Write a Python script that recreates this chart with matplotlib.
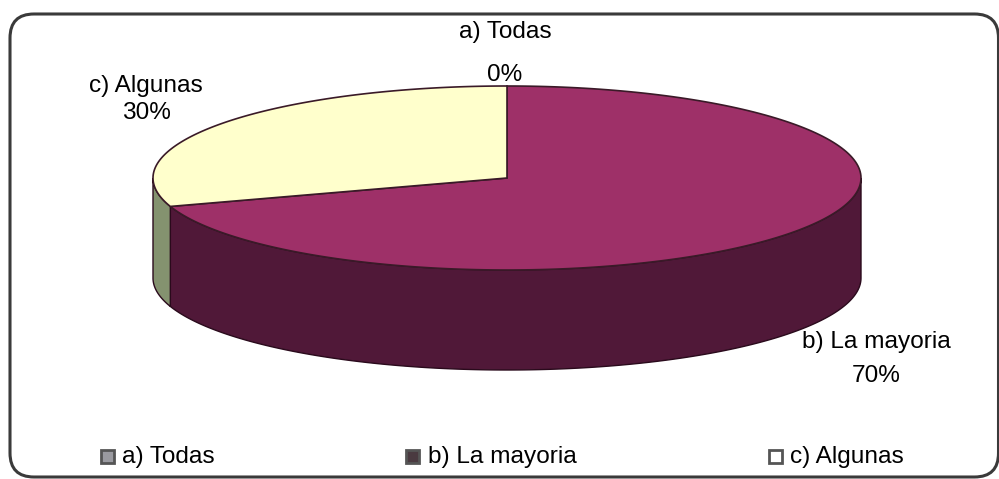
import numpy as np
import matplotlib
matplotlib.use('Agg')
import matplotlib.pyplot as plt
from matplotlib.patches import FancyBboxPatch, Polygon, Rectangle

plt.rcParams['font.family'] = ['Liberation Sans', 'DejaVu Sans']

labels = ['a) Todas', 'b) La mayoria', 'c) Algunas']
values = [0, 70, 30]
top_colors = ['#8a9a7a', '#9e3068', '#ffffcc']
side_colors = ['#7f8f6f', '#501838', '#84926f']
legend_colors = ['#9a9aa0', '#4a3a40', '#ffffff']

cx, cy, rx, ry, depth = 507, 178, 354, 92, 100
fs = 17.6


def ell(a):
    # a in degrees, clockwise from the top of the pie
    t = np.radians(a)
    return cx + rx * np.sin(t), cy - ry * np.cos(t)


fig = plt.figure(figsize=(9.99, 4.79), dpi=100)
ax = fig.add_axes([0, 0, 1, 1])
ax.set_xlim(0, 999)
ax.set_ylim(479, 0)
ax.axis('off')

ax.add_patch(FancyBboxPatch((10, 14), 988.5, 463, boxstyle='round,pad=0,rounding_size=24',
                            fc='white', ec='#3a3a3a', lw=2.2))

start = 0
for value, top, side in zip(values, top_colors, side_colors):
    end = start + value * 3.6
    if value > 0:
        a = np.linspace(start, end, 200)
        x, y = ell(a)
        # wall only where the rim faces the viewer (90..270 deg)
        lo, hi = max(start, 90), min(end, 270)
        if hi > lo:
            w = np.linspace(lo, hi, 200)
            wx, wy = ell(w)
            pts = np.r_[np.c_[wx, wy], np.c_[wx, wy + depth][::-1]]
            ax.add_patch(Polygon(pts, closed=True, fc=side, ec='#2a0a1c', lw=1.0, zorder=2))
        pts = np.r_[[[cx, cy]], np.c_[x, y]]
        ax.add_patch(Polygon(pts, closed=True, fc=top, ec='#3a1a28', lw=1.2, zorder=3))
    start = end

ax.text(505, 32, 'a) Todas', fontsize=fs, ha='center', va='center')
ax.text(505, 75, '0%', fontsize=fs, ha='center', va='center')
ax.text(146, 86, 'c) Algunas', fontsize=fs, ha='center', va='center')
ax.text(146, 113, '30%', fontsize=fs, ha='center', va='center')
ax.text(876, 342, 'b) La mayoria', fontsize=fs, ha='center', va='center')
ax.text(876, 376, '70%', fontsize=fs, ha='center', va='center')

legend_x = [107, 412.5, 775.5]
text_x = [122, 428, 790]
for lx, tx, name, c in zip(legend_x, text_x, labels, legend_colors):
    ax.add_patch(Rectangle((lx - 6.5, 450), 13, 13, fc=c, ec='#555555', lw=2))
    ax.text(tx, 457, name, fontsize=fs, ha='left', va='center')

fig.savefig('out.png', dpi=100)
